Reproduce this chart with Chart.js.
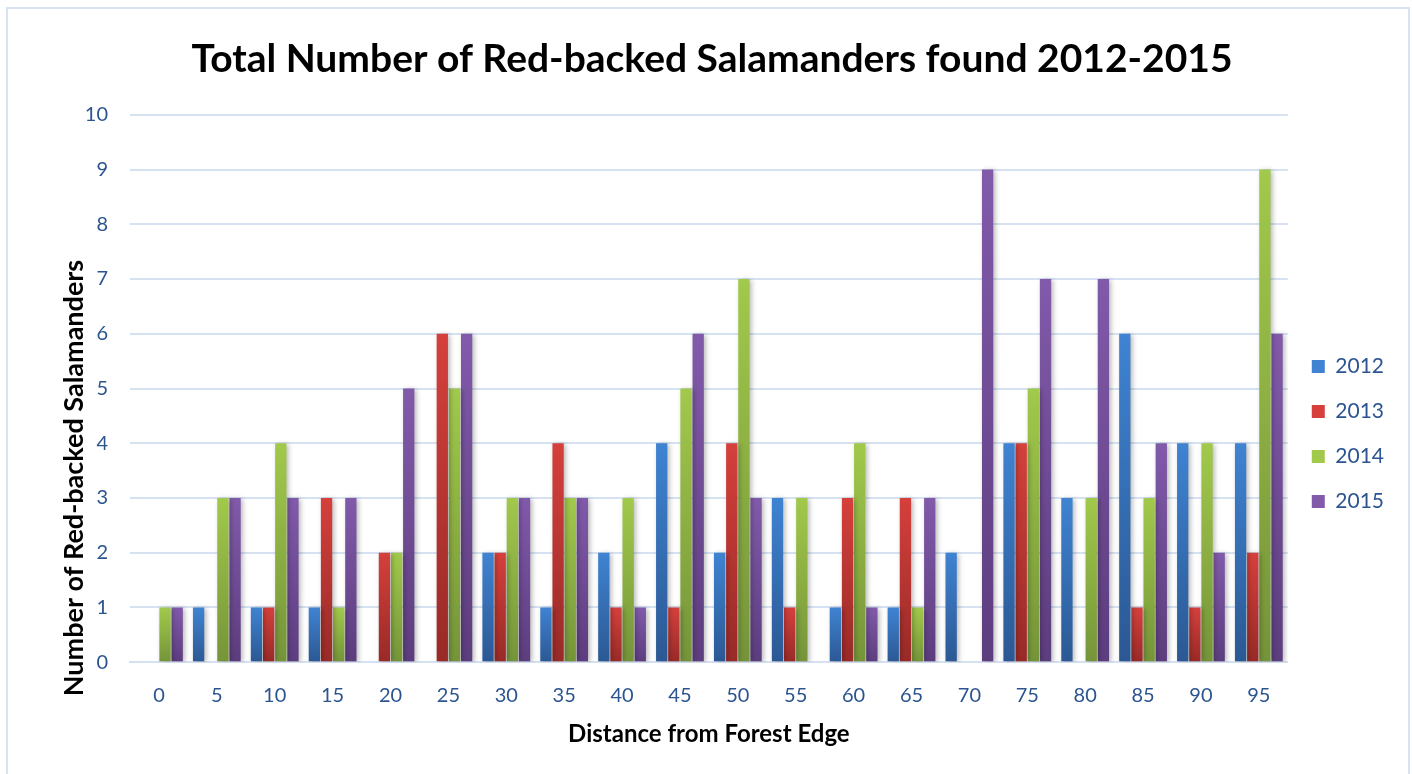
<!DOCTYPE html>
<html>
<head>
<meta charset="utf-8">
<title>Red-backed Salamanders 2012-2015</title>
<script src="https://cdn.jsdelivr.net/npm/chart.js@4"></script>
<style>
  html, body { margin: 0; padding: 0; background: #fff; }
  #wrap { position: relative; width: 1412px; height: 774px; overflow: hidden; }
  #frame {
    position: absolute; left: 6px; top: 7px; width: 1404px; height: 800px;
    border: 2px solid #d9e4f3; box-sizing: border-box; pointer-events: none;
  }
</style>
</head>
<body>
<div id="wrap">
  <canvas id="salamanderChart" width="1412" height="774"></canvas>
  <div id="frame"></div>
</div>
<script>
// Data
const distances = ['0', '5', '10', '15', '20', '25', '30', '35', '40', '45',
                   '50', '55', '60', '65', '70', '75', '80', '85', '90', '95'];
const counts2012 = [0, 1, 1, 1, 0, 0, 2, 1, 2, 4, 2, 3, 1, 1, 2, 4, 3, 6, 4, 4];
const counts2013 = [0, 0, 1, 3, 2, 6, 2, 4, 1, 1, 4, 1, 3, 3, 0, 4, 0, 1, 1, 2];
const counts2014 = [1, 3, 4, 1, 2, 5, 3, 3, 3, 5, 7, 3, 4, 1, 0, 5, 3, 3, 4, 9];
const counts2015 = [1, 3, 3, 3, 5, 6, 3, 3, 1, 6, 3, 0, 1, 3, 9, 7, 7, 4, 2, 6];
const yTicks = [0, 1, 2, 3, 4, 5, 6, 7, 8, 9, 10];

const labelColor = '#2c5590';
const gridColor = '#d6e2f2';
const fontFamily = 'Lato, "Open Sans", sans-serif';

// vertical gradient per bar, light at top, dark at base
function barFill(top, bottom) {
    return function(ctx) {
        if (ctx.type !== 'data') return top;
        const chart = ctx.chart;
        const y = chart.scales.y;
        if (!y || !ctx.parsed) return top;
        const yTop = y.getPixelForValue(ctx.parsed.y);
        const yBase = y.getPixelForValue(0);
        if (!isFinite(yTop) || !isFinite(yBase) || yBase - yTop < 1) return top;
        const g = chart.ctx.createLinearGradient(0, yTop, 0, yBase);
        g.addColorStop(0, top);
        g.addColorStop(1, bottom);
        return g;
    };
}

// soft shadow behind the bars
const barShadow = {
    id: 'barShadow',
    beforeDatasetsDraw(chart) {
        const c = chart.ctx;
        c.save();
        c.shadowColor = 'rgba(0, 0, 0, 0.28)';
        c.shadowBlur = 5;
        c.shadowOffsetX = 2;
        c.shadowOffsetY = 1;
    },
    afterDatasetsDraw(chart) {
        chart.ctx.restore();
    }
};

// y axis title sits a bit lower than the axis centre in the original
const yTitle = {
    id: 'yTitle',
    afterDraw(chart) {
        const c = chart.ctx;
        c.save();
        c.translate(74, 478);
        c.rotate(-Math.PI / 2);
        c.font = 'bold 27px ' + fontFamily;
        c.fillStyle = '#000';
        c.textAlign = 'center';
        c.textBaseline = 'middle';
        c.fillText('Number of Red-backed Salamanders', 0, 0);
        c.restore();
    }
};

document.addEventListener('DOMContentLoaded', function() {
    const canvas = document.getElementById('salamanderChart');
    new Chart(canvas, {
        type: 'bar',
        data: {
            labels: distances,
            datasets: [
                { label: '2012', data: counts2012, backgroundColor: barFill('#3f83d2', '#2b5893') },
                { label: '2013', data: counts2013, backgroundColor: barFill('#d5403c', '#982a27') },
                { label: '2014', data: counts2014, backgroundColor: barFill('#a1c94b', '#759439') },
                { label: '2015', data: counts2015, backgroundColor: barFill('#815aaa', '#5c3d7e') }
            ]
        },
        options: {
            responsive: false,
            animation: false,
            devicePixelRatio: 1,
            categoryPercentage: 0.84,
            barPercentage: 0.93,
            layout: { padding: { left: 30, right: 18, top: 0, bottom: 25 } },
            plugins: {
                title: {
                    display: true,
                    text: 'Total Number of Red-backed Salamanders found 2012-2015',
                    color: '#000',
                    font: { family: fontFamily, size: 39, weight: 'bold' },
                    padding: { top: 36, bottom: 32 }
                },
                legend: {
                    position: 'right',
                    align: 'center',
                    title: { display: true, text: '', font: { size: 1 }, padding: { top: 74, bottom: 44 } },
                    labels: {
                        color: labelColor,
                        font: { family: fontFamily, size: 21 },
                        boxWidth: 13,
                        boxHeight: 13,
                        padding: 24
                    }
                },
                tooltip: { enabled: false }
            },
            scales: {
                x: {
                    grid: { display: false, drawTicks: false },
                    border: { display: true, color: gridColor, width: 2 },
                    ticks: {
                        color: labelColor,
                        font: { family: fontFamily, size: 20 },
                        padding: 21,
                        maxRotation: 0
                    },
                    title: {
                        display: true,
                        text: 'Distance from Forest Edge',
                        color: '#000',
                        font: { family: fontFamily, size: 24, weight: 'bold' },
                        padding: { top: -8, bottom: 0 }
                    }
                },
                y: {
                    min: yTicks[0],
                    max: yTicks[yTicks.length - 1],
                    afterBuildTicks: function(axis) {
                        axis.ticks = yTicks.map(v => ({ value: v }));
                    },
                    afterFit: function(axis) {
                        axis.width = 100;
                    },
                    grid: { color: gridColor, lineWidth: 2, drawTicks: false },
                    border: { display: false },
                    ticks: {
                        color: labelColor,
                        font: { family: fontFamily, size: 20 },
                        padding: 22
                    }
                }
            }
        },
        plugins: [barShadow, yTitle]
    });
});
</script>
</body>
</html>
